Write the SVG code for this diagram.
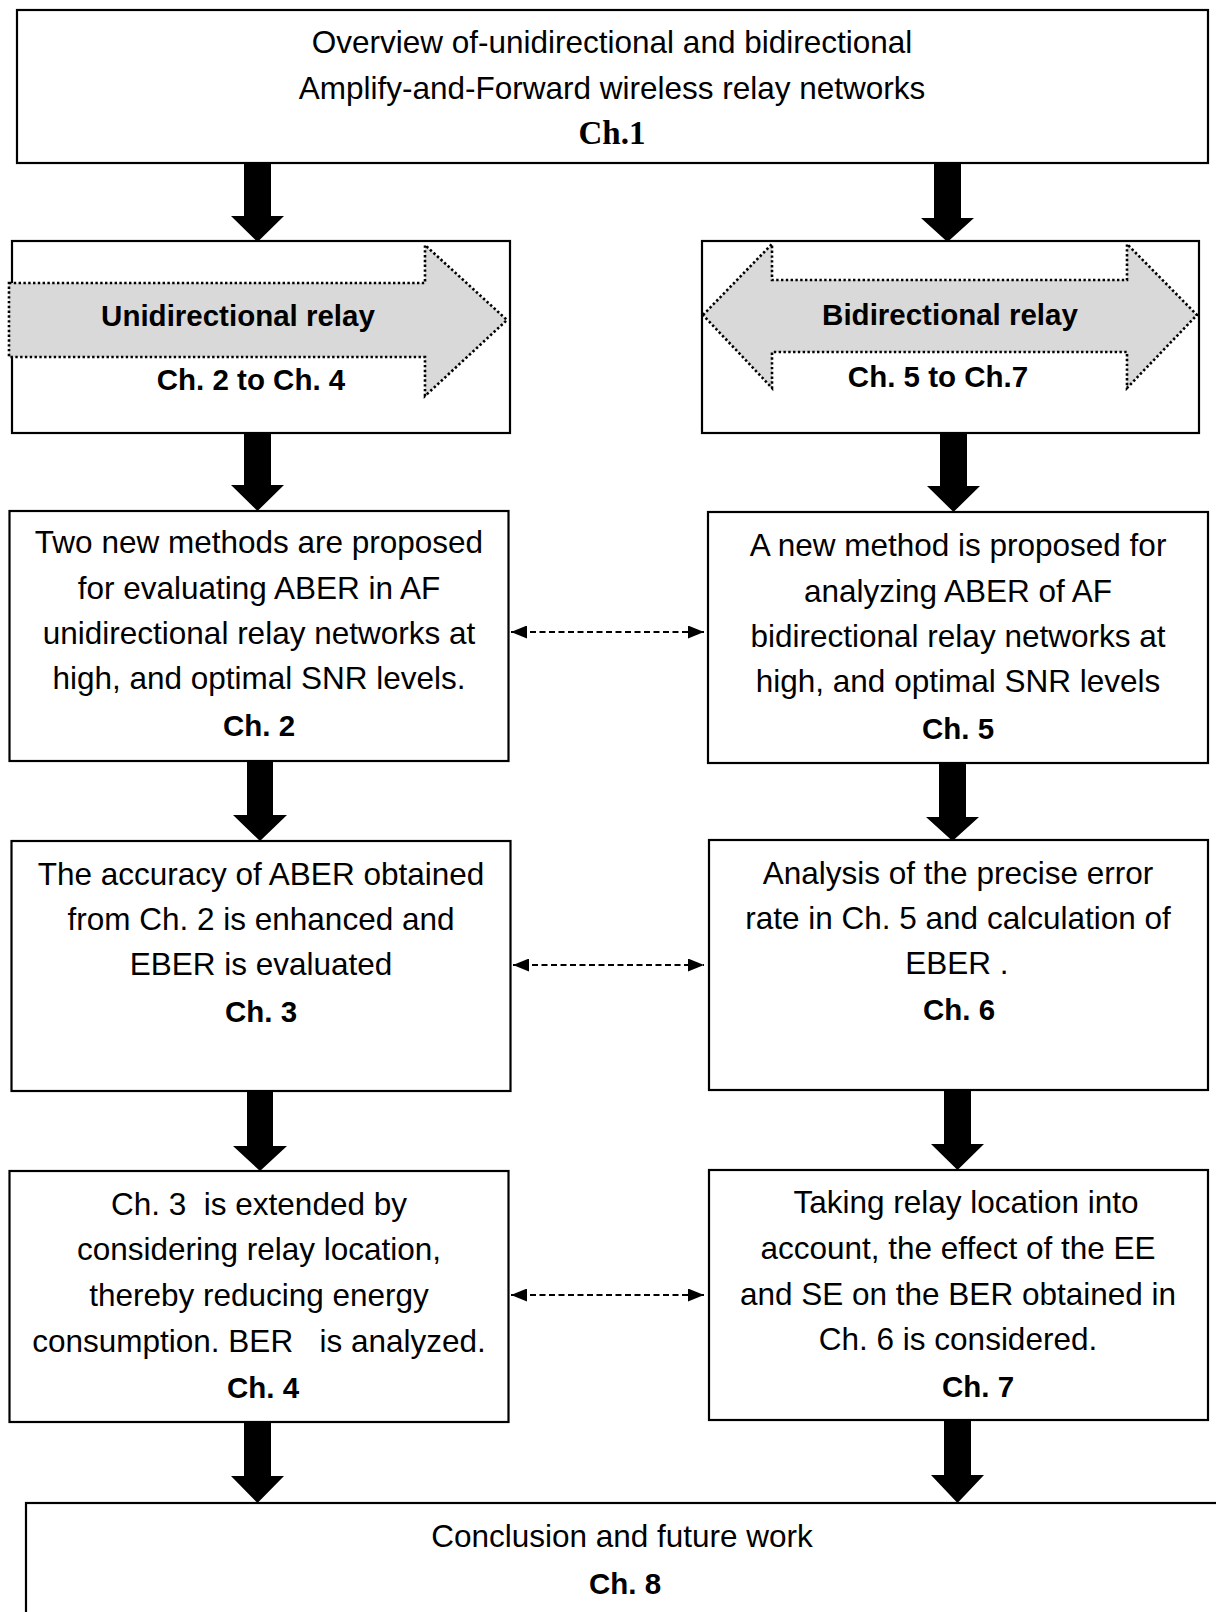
<svg xmlns="http://www.w3.org/2000/svg" width="1216" height="1612" viewBox="0 0 1216 1612">
  <style>
    .box { fill: #ffffff; stroke: #000000; stroke-width: 2.2; }
    .t { font-family: "Liberation Sans", Arial, sans-serif; font-size: 31.5px; fill: #000000; text-anchor: middle; white-space: pre; }
    .b { font-family: "Liberation Sans", Arial, sans-serif; font-size: 29.5px; font-weight: bold; fill: #000000; text-anchor: middle; white-space: pre; }
    .serif { font-family: "Liberation Serif", "Times New Roman", serif; font-size: 33px; font-weight: bold; fill: #000000; text-anchor: middle; }
    .band { fill: #d9d9d9; stroke: #000000; stroke-width: 2.6; stroke-dasharray: 2.4 2.4; }
    .flow { fill: #000000; stroke: none; }
    .link { fill: none; stroke: #000000; stroke-width: 2.2; stroke-dasharray: 6 3.5; }
  </style>
  <defs>
    <marker id="tip" viewBox="0 0 16 13" refX="16" refY="6.5" markerWidth="16" markerHeight="13" markerUnits="userSpaceOnUse" orient="auto-start-reverse">
      <path d="M0,0 L16,6.5 L0,13 z" fill="#000000"/>
    </marker>
  </defs>

  <!-- Ch.1 overview -->
  <g id="ch1">
    <rect class="box" x="17" y="10" width="1191" height="153"/>
    <text class="t" x="612" y="53">Overview of-unidirectional and bidirectional</text>
    <text class="t" x="612" y="99">Amplify-and-Forward wireless relay networks</text>
    <text class="serif" x="612" y="144">Ch.1</text>
  </g>

  <!-- Unidirectional branch header -->
  <g id="unidirectional">
    <rect class="box" x="12" y="241" width="498" height="192"/>
    <polygon class="band" points="9,283 425,283 425,245 507,320 425,396 425,357 9,357"/>
    <text class="b" x="238" y="326">Unidirectional relay</text>
    <text class="b" x="251" y="390">Ch. 2 to Ch. 4</text>
  </g>

  <!-- Bidirectional branch header -->
  <g id="bidirectional">
    <rect class="box" x="702" y="241" width="497" height="192"/>
    <polygon class="band" points="703,315 772,244 772,280 1127,280 1127,244 1197,315 1127,388 1127,352 772,352 772,388"/>
    <text class="b" x="950" y="325">Bidirectional relay</text>
    <text class="b" x="938" y="387">Ch. 5 to Ch.7</text>
  </g>

  <!-- Ch. 2 -->
  <g id="ch2">
    <rect class="box" x="9.5" y="511" width="499" height="250"/>
    <text class="t" x="259" y="553">Two new methods are proposed</text>
    <text class="t" x="259" y="599">for evaluating ABER in AF</text>
    <text class="t" x="259" y="644">unidirectional relay networks at</text>
    <text class="t" x="259" y="689">high, and optimal SNR levels.</text>
    <text class="b" x="259" y="736">Ch. 2</text>
  </g>

  <!-- Ch. 5 -->
  <g id="ch5">
    <rect class="box" x="708" y="512" width="500" height="251"/>
    <text class="t" x="958" y="556">A new method is proposed for</text>
    <text class="t" x="958" y="602">analyzing ABER of AF</text>
    <text class="t" x="958" y="647">bidirectional relay networks at</text>
    <text class="t" x="958" y="692">high, and optimal SNR levels</text>
    <text class="b" x="958" y="739">Ch. 5</text>
  </g>

  <!-- Ch. 3 -->
  <g id="ch3">
    <rect class="box" x="11.5" y="841" width="499" height="250"/>
    <text class="t" x="261" y="885">The accuracy of ABER obtained</text>
    <text class="t" x="261" y="930">from Ch. 2 is enhanced and</text>
    <text class="t" x="261" y="975">EBER is evaluated</text>
    <text class="b" x="261" y="1022">Ch. 3</text>
  </g>

  <!-- Ch. 6 -->
  <g id="ch6">
    <rect class="box" x="709" y="840" width="499" height="250"/>
    <text class="t" x="958" y="884">Analysis of the precise error</text>
    <text class="t" x="958" y="929">rate in Ch. 5 and calculation of</text>
    <text class="t" x="957" y="974">EBER .</text>
    <text class="b" x="959" y="1020">Ch. 6</text>
  </g>

  <!-- Ch. 4 -->
  <g id="ch4">
    <rect class="box" x="9.5" y="1171" width="499" height="251"/>
    <text class="t" x="259" y="1215">Ch. 3  is extended by</text>
    <text class="t" x="259" y="1260">considering relay location,</text>
    <text class="t" x="259" y="1306">thereby reducing energy</text>
    <text class="t" x="259" y="1352">consumption. BER   is analyzed.</text>
    <text class="b" x="263" y="1398">Ch. 4</text>
  </g>

  <!-- Ch. 7 -->
  <g id="ch7">
    <rect class="box" x="709" y="1170" width="499" height="250"/>
    <text class="t" x="966" y="1213">Taking relay location into</text>
    <text class="t" x="958" y="1259">account, the effect of the EE</text>
    <text class="t" x="958" y="1305">and SE on the BER obtained in</text>
    <text class="t" x="958" y="1350">Ch. 6 is considered.</text>
    <text class="b" x="978" y="1397">Ch. 7</text>
  </g>

  <!-- Ch. 8 -->
  <g id="ch8">
    <rect class="box" x="26" y="1503" width="1200" height="130"/>
    <text class="t" x="622" y="1547">Conclusion and future work</text>
    <text class="b" x="625" y="1594">Ch. 8</text>
  </g>

  <!-- connectors: block arrows down each column, dashed links across -->
  <g id="connectors">
    <polygon class="flow" points="244,163 271,163 271,216 284,216 257.5,242 231,216 244,216"/>
    <polygon class="flow" points="934,163 961,163 961,218 974,218 947.5,242 921,218 934,218"/>
    <polygon class="flow" points="244,433 271,433 271,485 284,485 257.5,511 231,485 244,485"/>
    <polygon class="flow" points="940,433 967,433 967,486 980,486 953.5,512 927,486 940,486"/>
    <polygon class="flow" points="247,761 273,761 273,815 287,815 260,841 233,815 247,815"/>
    <polygon class="flow" points="939,763 966,763 966,817 979,817 952.5,841 926,817 939,817"/>
    <polygon class="flow" points="247,1091 273,1091 273,1146 287,1146 260,1171 233,1146 247,1146"/>
    <polygon class="flow" points="944,1090 971,1090 971,1144 984,1144 957.5,1170 931,1144 944,1144"/>
    <polygon class="flow" points="244,1422 271,1422 271,1476 284,1476 257.5,1503 231,1476 244,1476"/>
    <polygon class="flow" points="944,1420 971,1420 971,1475 984,1475 957.5,1503 931,1475 944,1475"/>

    <line class="link" x1="511" y1="632" x2="704" y2="632" marker-start="url(#tip)" marker-end="url(#tip)"/>
    <line class="link" x1="513" y1="965" x2="704" y2="965" marker-start="url(#tip)" marker-end="url(#tip)"/>
    <line class="link" x1="511" y1="1295" x2="704" y2="1295" marker-start="url(#tip)" marker-end="url(#tip)"/>
  </g>
</svg>
